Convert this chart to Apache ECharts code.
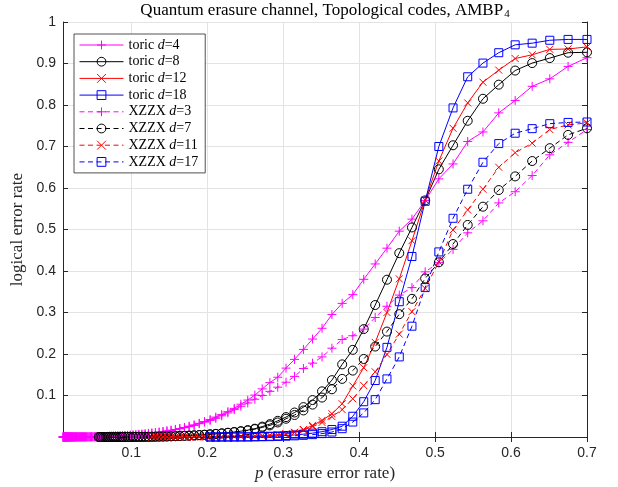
<!DOCTYPE html>
<html>
<head>
<meta charset="utf-8">
<script src="https://cdn.jsdelivr.net/npm/echarts@6/dist/echarts.min.js"></script>
<style>
html, body { margin: 0; padding: 0; background: #fff; }
#chart { width: 618px; height: 487px; }
</style>
</head>
<body>
<div id="chart"></div>
<script>
// erasure probabilities (x positions shared by all curves)
var pValues = [
  0.01, 0.01037, 0.01075, 0.01115, 0.01156, 0.01199, 0.01243, 0.01289, 0.01337, 0.01387,
  0.01438, 0.01491, 0.01546, 0.01603, 0.01663, 0.01724, 0.01788, 0.01854, 0.01922, 0.01994,
  0.02067, 0.02144, 0.02223, 0.02305, 0.0239, 0.02479, 0.02571, 0.02666, 0.02764, 0.02866,
  0.02973, 0.03082, 0.03196, 0.03315, 0.03437, 0.03564, 0.03696, 0.03833, 0.03974, 0.04121,
  0.04274, 0.04432, 0.04596, 0.04766, 0.04942, 0.05125, 0.05314, 0.05511, 0.05715, 0.05926,
  0.06145, 0.06372, 0.06608, 0.06852, 0.07106, 0.07368, 0.07641, 0.07923, 0.08216, 0.0852,
  0.08835, 0.09162, 0.09501, 0.09852, 0.1022, 0.1059, 0.1099, 0.1139, 0.1181, 0.1225,
  0.127, 0.1317, 0.1366, 0.1417, 0.1469, 0.1523, 0.158, 0.1638, 0.1699, 0.1761,
  0.1827, 0.1894, 0.1964, 0.2037, 0.2112, 0.219, 0.2271, 0.2355, 0.2442, 0.2533,
  0.2626, 0.2723, 0.2824, 0.2928, 0.3037, 0.3149, 0.3266, 0.3386, 0.3511, 0.3641,
  0.3776, 0.3916, 0.406, 0.4211, 0.4366, 0.4528, 0.4695, 0.4869, 0.5049, 0.5236,
  0.5429, 0.563, 0.5838, 0.6054, 0.6278, 0.651, 0.6751, 0.7
];

// logical error rates, each curve starts at its own index in pValues
var toricD4 = [
  0, 0, 0, 0, 0, 0, 0, 0, 0, 0,
  0, 0, 0, 0, 0, 0, 0, 0.0001, 0.0001, 0.0001,
  0.0001, 0.0001, 0.0001, 0.0001, 0.0001, 0.0001, 0.0001, 0.0001, 0.0002, 0.0002,
  0.0002, 0.0002, 0.0002, 0.0002, 0.0002, 0.0002, 0.0003, 0.0003, 0.0003, 0.0003,
  0.0003, 0.0004, 0.0004, 0.0005, 0.0005, 0.0006, 0.0006, 0.0007, 0.0008, 0.0009,
  0.001, 0.0011, 0.0012, 0.0013, 0.0015, 0.0017, 0.0019, 0.0021, 0.0023, 0.0026,
  0.0029, 0.0033, 0.0037, 0.0042, 0.0047, 0.0053, 0.0059, 0.0066, 0.0074, 0.0083,
  0.0093, 0.0104, 0.0116, 0.013, 0.0146, 0.0163, 0.0183, 0.0205, 0.023, 0.026,
  0.029, 0.033, 0.037, 0.042, 0.048, 0.054, 0.061, 0.069, 0.079, 0.089,
  0.101, 0.116, 0.131, 0.144, 0.166, 0.187, 0.211, 0.236, 0.262, 0.295,
  0.322, 0.343, 0.38, 0.417, 0.455, 0.496, 0.525, 0.57, 0.622, 0.658,
  0.712, 0.735, 0.781, 0.811, 0.845, 0.863, 0.893, 0.914
];
var toricD8 = [
  0, 0,
  0, 0, 0, 0, 0.0001, 0.0001, 0.0001, 0.0001, 0.0001, 0.0001,
  0.0001, 0.0002, 0.0002, 0.0002, 0.0003, 0.0003, 0.0004, 0.0004, 0.0005, 0.0006,
  0.0007, 0.0008, 0.001, 0.0012, 0.0014, 0.0017, 0.002, 0.0024, 0.0028, 0.0033,
  0.0039, 0.0046, 0.0054, 0.0063, 0.0074, 0.0087, 0.0102, 0.012, 0.014, 0.0165,
  0.02, 0.025, 0.031, 0.039, 0.048, 0.059, 0.072, 0.089, 0.11, 0.137,
  0.175, 0.21, 0.26, 0.318, 0.379, 0.443, 0.505, 0.57, 0.645, 0.703,
  0.762, 0.815, 0.849, 0.883, 0.901, 0.913, 0.926, 0.927
];
var toricD12 = [
  0, 0, 0, 0, 0.0001, 0.0001, 0.0001, 0.0001, 0.0002, 0.0002,
  0.0003, 0.0003, 0.0004, 0.0005, 0.0006, 0.0008, 0.001, 0.0013, 0.0017, 0.0022,
  0.0025, 0.0032, 0.0042, 0.0057, 0.0078, 0.0115, 0.018, 0.028, 0.04, 0.056,
  0.08, 0.123, 0.167, 0.228, 0.3, 0.381, 0.473, 0.571, 0.665, 0.744,
  0.805, 0.855, 0.884, 0.912, 0.921, 0.934, 0.935, 0.94
];
var toricD18 = [
  0, 0, 0.0001, 0.0001, 0.0002, 0.0002, 0.0003,
  0.0008, 0.0012, 0.0018, 0.0026, 0.0036, 0.005, 0.0068, 0.0093, 0.0128, 0.018,
  0.026, 0.05, 0.085, 0.136, 0.216, 0.326, 0.435, 0.568, 0.7, 0.793,
  0.868, 0.901, 0.926, 0.945, 0.949, 0.956, 0.958, 0.958
];
var xzzxD3 = [
  0, 0, 0, 0, 0, 0, 0, 0, 0, 0,
  0, 0, 0, 0, 0, 0, 0, 0.0001, 0.0001, 0.0001,
  0.0001, 0.0001, 0.0001, 0.0001, 0.0001, 0.0001, 0.0001, 0.0001, 0.0002, 0.0002,
  0.0002, 0.0002, 0.0002, 0.0002, 0.0002, 0.0002, 0.0003, 0.0003, 0.0003, 0.0003,
  0.0003, 0.0004, 0.0004, 0.0005, 0.0005, 0.0006, 0.0006, 0.0007, 0.0008, 0.0009,
  0.001, 0.0011, 0.0012, 0.0013, 0.0015, 0.0017, 0.0019, 0.0021, 0.0023, 0.0026,
  0.0029, 0.0032, 0.0036, 0.0041, 0.0046, 0.0052, 0.0058, 0.0065, 0.0073, 0.0082,
  0.0092, 0.0102, 0.0114, 0.0127, 0.0142, 0.0159, 0.0178, 0.0199, 0.0223, 0.025,
  0.028, 0.032, 0.036, 0.04, 0.045, 0.051, 0.058, 0.066, 0.074, 0.082,
  0.091, 0.1, 0.11, 0.12, 0.132, 0.146, 0.165, 0.178, 0.193, 0.214,
  0.235, 0.244, 0.26, 0.288, 0.315, 0.342, 0.36, 0.398, 0.42, 0.452,
  0.492, 0.521, 0.564, 0.591, 0.63, 0.68, 0.71, 0.741
];
var xzzxD7 = [
  0, 0,
  0, 0, 0, 0, 0.0001, 0.0001, 0.0001, 0.0001, 0.0001, 0.0001,
  0.0001, 0.0002, 0.0002, 0.0002, 0.0003, 0.0003, 0.0004, 0.0004, 0.0005, 0.0006,
  0.0007, 0.0008, 0.001, 0.0012, 0.0014, 0.0017, 0.002, 0.0024, 0.0028, 0.0033,
  0.0039, 0.0046, 0.0054, 0.0063, 0.0074, 0.0086, 0.01, 0.0116, 0.0135, 0.0157,
  0.019, 0.023, 0.028, 0.035, 0.044, 0.053, 0.064, 0.078, 0.095, 0.115,
  0.14, 0.16, 0.188, 0.218, 0.254, 0.296, 0.333, 0.382, 0.421, 0.465,
  0.511, 0.555, 0.595, 0.628, 0.665, 0.696, 0.728, 0.744
];
var xzzxD11 = [
  0, 0, 0, 0, 0.0001, 0.0001, 0.0001, 0.0001, 0.0002, 0.0002,
  0.0003, 0.0003, 0.0004, 0.0005, 0.0006, 0.0007, 0.0009, 0.0011, 0.0014, 0.0018,
  0.0023, 0.003, 0.0039, 0.0051, 0.0075, 0.011, 0.017, 0.025, 0.035, 0.049,
  0.066, 0.092, 0.124, 0.157, 0.199, 0.248, 0.302, 0.358, 0.422, 0.499,
  0.547, 0.597, 0.65, 0.685, 0.708, 0.741, 0.752, 0.757
];
var xzzxD17 = [
  0, 0, 0.0001, 0.0001, 0.0001, 0.0002, 0.0003,
  0.0004, 0.0006, 0.0009, 0.0013, 0.0019, 0.0028, 0.004, 0.0057, 0.0082, 0.012,
  0.02, 0.036, 0.058, 0.09, 0.14, 0.193, 0.267, 0.36, 0.446, 0.527,
  0.597, 0.662, 0.707, 0.732, 0.743, 0.755, 0.758, 0.759
];

var xTicks = [0.1, 0.2, 0.3, 0.4, 0.5, 0.6, 0.7];

var serif = 'Liberation Serif';
var axisColor = '#262626';
var plusPath = 'path://M5,0L5,10M0,5L10,5';
var crossPath = 'path://M0,0L10,10M10,0L0,10';

function makeSeries(name, values, start, color, symbol, size, dashed) {
  return {
    name: name,
    type: 'line',
    data: values.map(function (v, i) { return [pValues[start + i], v]; }),
    symbol: symbol,
    symbolSize: size,
    showSymbol: true,
    clip: false,
    lineStyle: { color: color, width: 1, type: dashed ? [5, 3.5] : 'solid' },
    itemStyle: { color: 'transparent', borderColor: color, borderWidth: 1 },
    emphasis: { disabled: true }
  };
}

var myChart = echarts.init(document.getElementById('chart'));

var option = {
  animation: false,
  backgroundColor: '#fff',
  title: {
    text: 'Quantum erasure channel, Topological codes, AMBP{sub|4}',
    left: 325,
    textAlign: 'center',
    top: 1,
    padding: 0,
    textStyle: {
      fontFamily: serif,
      fontSize: 17,
      fontWeight: 'normal',
      color: '#000',
      rich: {
        sub: { fontFamily: serif, fontSize: 11, verticalAlign: 'bottom', padding: [8, 0, 0, 1] }
      }
    }
  },
  grid: { left: 63, right: 31, top: 22, bottom: 50 },
  legend: {
    orient: 'vertical',
    left: 74,
    top: 34,
    padding: [4, 7, 4, 5],
    itemWidth: 44,
    itemHeight: 11,
    itemGap: 2.7,
    backgroundColor: '#fff',
    borderColor: axisColor,
    borderWidth: 0.8,
    borderRadius: 0,
    lineStyle: { width: 1 },
    itemStyle: { borderWidth: 1 },
    formatter: function (name) { return name.replace(' d=', ' {i|d}='); },
    textStyle: {
      fontFamily: serif,
      fontSize: 14,
      color: '#000',
      rich: { i: { fontFamily: serif, fontSize: 14, fontStyle: 'italic' } }
    }
  },
  xAxis: [
    {
      type: 'value',
      min: 0.01,
      max: 0.7,
      position: 'bottom',
      name: '{i|p} (erasure error rate)',
      nameLocation: 'middle',
      nameGap: 25,
      nameTextStyle: {
        fontFamily: serif, fontSize: 17, color: axisColor,
        rich: { i: { fontFamily: serif, fontSize: 17, fontStyle: 'italic', color: axisColor } }
      },
      axisLine: { show: true, lineStyle: { color: axisColor, width: 1 } },
      axisTick: { show: true, inside: true, length: 5, customValues: xTicks, lineStyle: { color: axisColor } },
      axisLabel: { customValues: xTicks, margin: 9, fontFamily: 'Liberation Sans', fontSize: 14, color: axisColor },
      splitLine: { show: true, lineStyle: { color: '#e3e3e3', width: 1 } }
    },
    {
      type: 'value',
      min: 0.01,
      max: 0.7,
      position: 'top',
      axisLine: { show: true, lineStyle: { color: axisColor, width: 1 } },
      axisTick: { show: true, inside: true, length: 5, customValues: xTicks, lineStyle: { color: axisColor } },
      axisLabel: { show: false },
      splitLine: { show: false }
    }
  ],
  yAxis: [
    {
      type: 'value',
      min: 0,
      max: 1,
      interval: 0.1,
      position: 'left',
      name: 'logical error rate',
      nameLocation: 'middle',
      nameGap: 33,
      nameTextStyle: { fontFamily: serif, fontSize: 17, color: axisColor },
      axisLine: { show: true, lineStyle: { color: axisColor, width: 1 } },
      axisTick: { show: true, inside: true, length: 5, lineStyle: { color: axisColor } },
      axisLabel: {
        margin: 7, fontFamily: 'Liberation Sans', fontSize: 14, color: axisColor,
        formatter: function (v) { return v === 0 ? '' : String(v); }
      },
      splitLine: { show: true, lineStyle: { color: '#e3e3e3', width: 1 } }
    },
    {
      type: 'value',
      min: 0,
      max: 1,
      interval: 0.1,
      position: 'right',
      axisLine: { show: true, lineStyle: { color: axisColor, width: 1 } },
      axisTick: { show: true, inside: true, length: 5, lineStyle: { color: axisColor } },
      axisLabel: { show: false },
      splitLine: { show: false }
    }
  ],
  series: [
    makeSeries('toric d=4', toricD4, 0, '#ff00ff', plusPath, 9, false),
    makeSeries('toric d=8', toricD8, 48, '#000000', 'circle', 9, false),
    makeSeries('toric d=12', toricD12, 70, '#ff0000', crossPath, 7, false),
    makeSeries('toric d=18', toricD18, 83, '#0000ff', 'rect', 8, false),
    makeSeries('XZZX d=3', xzzxD3, 0, '#ff00ff', plusPath, 9, true),
    makeSeries('XZZX d=7', xzzxD7, 48, '#000000', 'circle', 9, true),
    makeSeries('XZZX d=11', xzzxD11, 70, '#ff0000', crossPath, 7, true),
    makeSeries('XZZX d=17', xzzxD17, 83, '#0000ff', 'rect', 8, true)
  ]
};

myChart.setOption(option);

window.addEventListener('resize', function () {
  myChart.resize();
});
</script>
</body>
</html>
